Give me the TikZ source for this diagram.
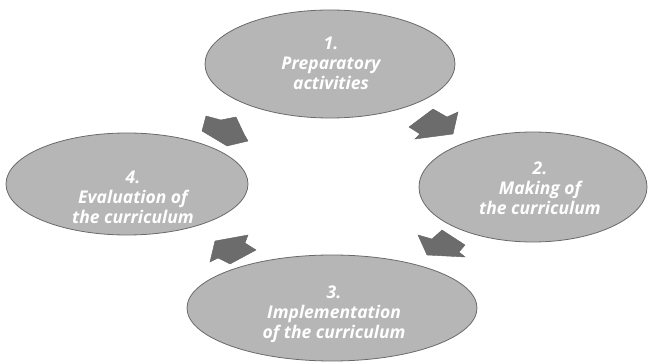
\documentclass[tikz,border=0pt]{standalone}
\usepackage{fontspec}
\setmainfont{Open Sans}
\usetikzlibrary{shapes.geometric}
\definecolor{ellfill}{HTML}{B6B6B6}
\definecolor{ellline}{HTML}{6A6A6A}
\definecolor{arrfill}{HTML}{6C6C6C}
\tikzset{
  stage/.style={ellipse, draw=ellline, line width=0.8pt, fill=ellfill, inner sep=0pt},
  stagetext/.style={text=white, font=\fontsize{17.5}{20}\selectfont\bfseries\itshape, align=center, inner sep=0pt},
  blockarrow/.style={fill=arrfill, draw=arrfill!90!black, line width=0.4pt, line join=miter}
}
\begin{document}
\begin{tikzpicture}[x=1pt,y=-1pt]
\useasboundingbox (0,0) rectangle (648,363);
% ellipses
\node[stage, minimum width=250pt, minimum height=108pt] (e1) at (330,64) {};
\node[stage, minimum width=228pt, minimum height=110pt] (e2) at (533,187) {};
\node[stage, minimum width=290pt, minimum height=106pt] (e3) at (332,308) {};
\node[stage, minimum width=242pt, minimum height=102pt] (e4) at (127,184) {};
% texts
\node[stagetext] (t1) at (331,63) {1.\\Preparatory\\activities};
\node[stagetext] (t2) at (540,188) {2.\\Making of\\the curriculum};
\node[stagetext] (t3) at (334,314) {3.\\Implementation\\of the curriculum};
\node[stagetext] (t4) at (133,197) {4.\\Evaluation of\\the curriculum};
% block arrows
\filldraw[blockarrow] (409,127) -- (433,109) -- (447,117) -- (458,112) -- (453,134) -- (415,139) -- (420,134) -- cycle;
\filldraw[blockarrow] (418,235) -- (432,239) -- (442,230) -- (465,245) -- (459,252) -- (465,257) -- (427,255) -- cycle;
\filldraw[blockarrow] (215,241) -- (248,235) -- (245,243) -- (256,250) -- (230,264) -- (218,258) -- (210,262) -- cycle;
\filldraw[blockarrow] (202,131) -- (206,116) -- (221,120) -- (236,117) -- (244,134) -- (248,141) -- (227,146) -- cycle;
\end{tikzpicture}
\end{document}
